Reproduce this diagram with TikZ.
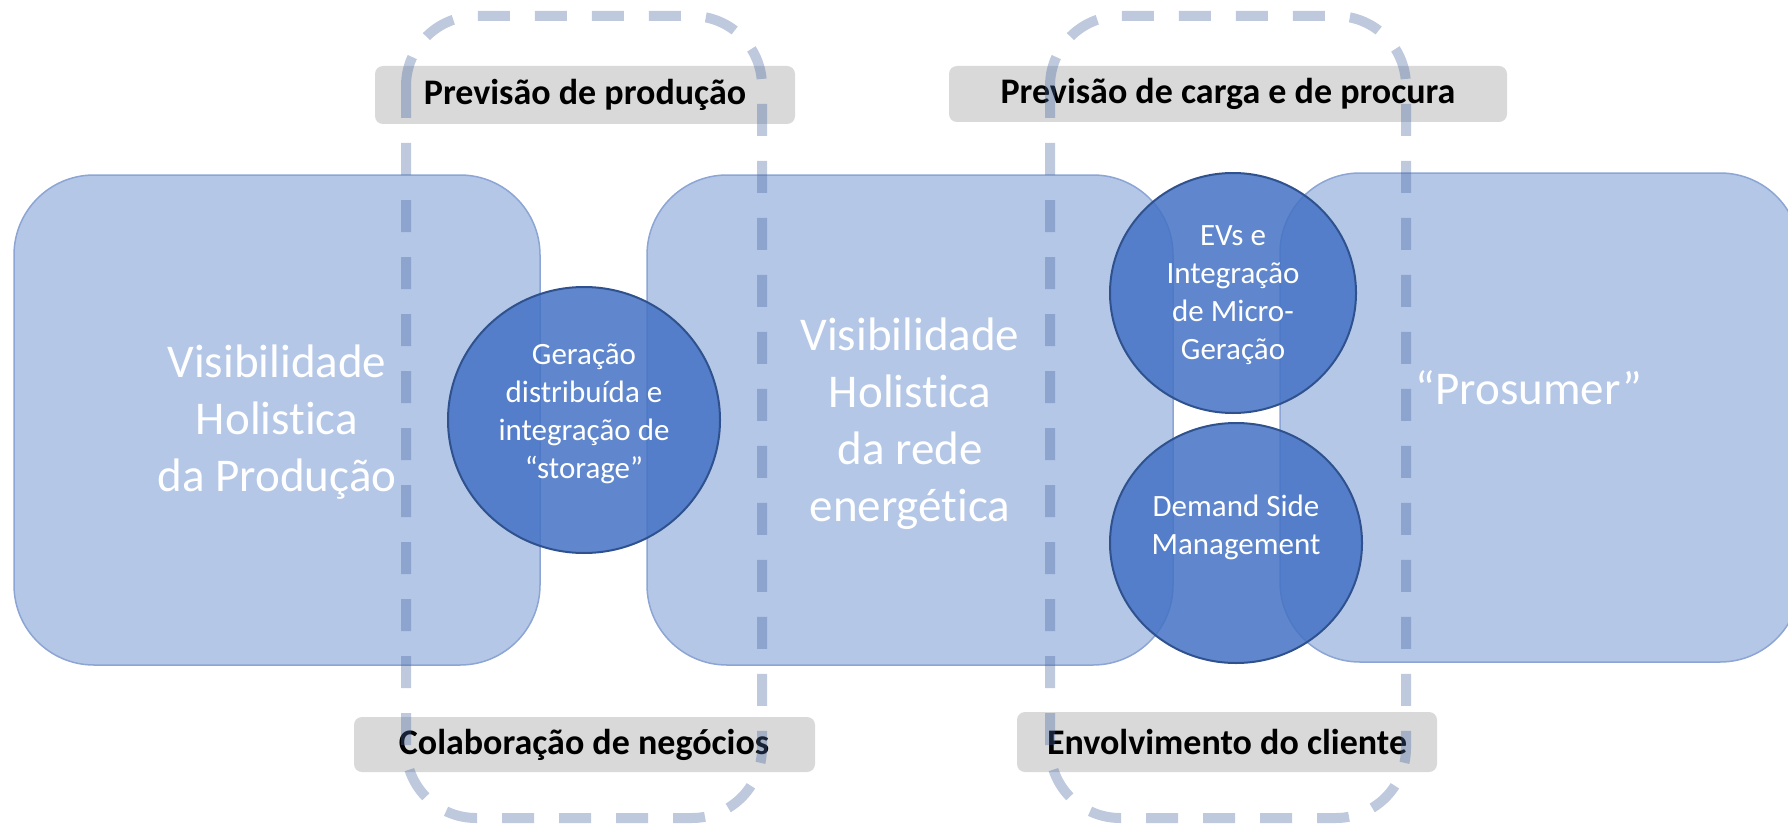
\documentclass[tikz,border=0pt]{standalone}
\usepackage{fontspec}
\setmainfont{Carlito}[Ligatures={NoCommon}]
\definecolor{boxfill}{RGB}{180,199,231}
\definecolor{boxedge}{RGB}{140,165,212}
\definecolor{circfill}{RGB}{68,114,196}
\definecolor{circedge}{RGB}{47,82,143}
\definecolor{dashcol}{RGB}{68,100,160}
\definecolor{labelfill}{RGB}{217,217,217}
\tikzset{
  bigbox/.style={fill=boxfill, draw=boxedge, line width=0.75pt, rounded corners=40pt},
  bubble/.style={fill=circfill, fill opacity=0.85, draw=circedge, line width=1pt},
  bigtext/.style={text=white, align=center, font=\fontsize{23.5}{28.5}\selectfont, inner sep=0pt},
  bubtext/.style={text=white, align=center, font=\fontsize{15.5}{19}\selectfont, inner sep=0pt},
  tagbox/.style={fill=labelfill, rounded corners=4pt},
  tagtext/.style={text=black, font=\fontsize{18}{22}\bfseries\selectfont, inner sep=0pt},
  zone/.style={draw=dashcol, draw opacity=0.35, line width=5pt, rounded corners=35pt, dash pattern=on 16pt off 12.5pt}
}
\begin{document}
\begin{tikzpicture}[x=0.5pt, y=-0.5pt]
\useasboundingbox (0,0) rectangle (1788,824);
\clip (0,0) rectangle (1788,824);
% main boxes
\draw[bigbox] (14,175) rectangle (540,665);
\draw[bigbox] (647,175) rectangle (1173,665);
\draw[bigbox] (1280,173) rectangle (1800,662);
\node[bigtext] (prod) at (277,422) {Visibilidade\\Holistica\\da Produção};
\node[bigtext] (rede) at (910,424) {Visibilidade\\Holistica\\da rede\\energética};
\node[bigtext] (pros) at (1529,388) {“Prosumer”};
% bubbles
\draw[bubble] (584,420) ellipse [x radius=136, y radius=133];
\draw[bubble] (1233,293) ellipse [x radius=123, y radius=120];
\draw[bubble] (1236,543) ellipse [x radius=126, y radius=120];
\node[bubtext] (ger) at (584,414) {Geração\\distribuída e\\integração de\\“storage”};
\node[bubtext] (evs) at (1233,295) {EVs e\\Integração\\de Micro-\\Geração};
\node[bubtext] (dsm) at (1236,527) {Demand Side\\Management};
% tags
\fill[tagbox] (375,66) rectangle (795,124);
\fill[tagbox] (949,66) rectangle (1507,122);
\fill[tagbox] (354,717) rectangle (815,772);
\fill[tagbox] (1017,712) rectangle (1437,772);
\node[tagtext] (t1) at (585,95) {Previsão de produção};
\node[tagtext] (t2) at (1228,94) {Previsão de carga e de procura};
\node[tagtext] (t3) at (584,745) {Colaboração de negócios};
\node[tagtext] (t4) at (1227,742) {Envolvimento do cliente};
% dashed zones
\draw[zone] (406,16) rectangle (762,818);
\draw[zone] (1050,16) rectangle (1406,818);
\end{tikzpicture}
\end{document}
